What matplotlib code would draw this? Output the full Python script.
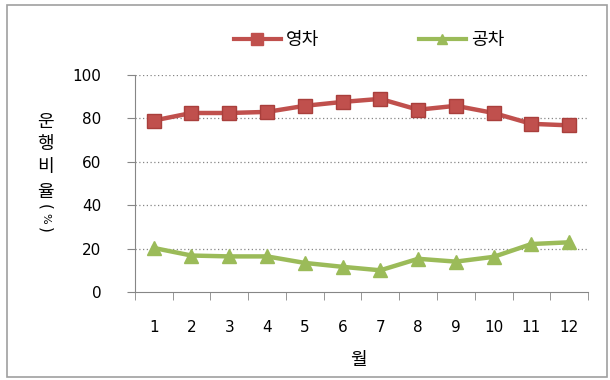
import matplotlib
matplotlib.use('Agg')
import matplotlib.pyplot as plt
from matplotlib.lines import Line2D
from matplotlib.patches import Rectangle

plt.rcParams['font.family'] = ['Noto Sans CJK KR', 'DejaVu Sans']

months = ['1', '2', '3', '4', '5', '6', '7', '8', '9', '10', '11', '12']
loaded = [79, 82.5, 82.5, 83, 85.8, 87.6, 89, 84, 85.8, 82.5, 77.5, 76.8]
empty = [20.3, 16.8, 16.4, 16.4, 13.4, 11.6, 10, 15.3, 14, 16.2, 22.1, 22.9]
yticks = [0, 20, 40, 60, 80, 100]
names = ['영차', '공차']
ylabel_chars = ['운', '행', '비', '율', '(', '%', ')']

red = '#C0504D'
green = '#9BBB59'

fig = plt.figure(figsize=(6.1, 3.8), dpi=100)
ax = fig.add_axes([0.221, 0.2316, 0.743, 0.571])

x = list(range(1, len(months) + 1))
ax.plot(x, loaded, color=red, lw=3.2, marker='s', ms=10, mfc=red, mec='#A93F3C', zorder=3)
ax.plot(x, empty, color=green, lw=3.2, marker='^', ms=10, mfc=green, mec=green, zorder=3)

ax.set_xlim(0.5, 12.5)
ax.set_ylim(0, 100)
ax.set_yticks(yticks)
ax.set_yticklabels([str(v) for v in yticks], family='DejaVu Sans', fontsize=11)
ax.set_xticks(x)
ax.set_xticklabels(months, family='DejaVu Sans', fontsize=11)
ax.set_xticks([i + 0.5 for i in range(0, 13)], minor=True)
ax.tick_params(axis='x', which='major', length=0, pad=20)
ax.tick_params(axis='x', which='minor', length=6, color='#868686', direction='out')
ax.tick_params(axis='y', length=6, color='#868686', direction='out', pad=18)

for y in yticks[1:]:
    ax.axhline(y, color='#868686', lw=0.9, ls=(0, (1, 2)), zorder=1)

for side in ['top', 'right']:
    ax.spines[side].set_visible(False)
for side in ['left', 'bottom']:
    ax.spines[side].set_color('#868686')

# legend
handles = [Line2D([], [], color=red, lw=3, marker='s', ms=8, mfc=red, mec=red),
           Line2D([], [], color=green, lw=3, marker='^', ms=7, mfc=green, mec=green)]
fig.legend(handles, names, loc='center', bbox_to_anchor=(0.605, 0.895), ncol=2,
           frameon=False, fontsize=13, handlelength=2.6, columnspacing=5.5, handletextpad=0.3)

# stacked y label, parentheses turned on their side
ys = [122, 144, 167, 192, 207, 218, 230]
for ch, yp in zip(ylabel_chars, ys):
    if ch in '()':
        fig.text(45 / 610, 1 - yp / 380, ch, ha='center', va='center', fontsize=11,
                 rotation=270, family='DejaVu Sans')
    elif ch == '%':
        fig.text(45 / 610, 1 - yp / 380, ch, ha='center', va='center', fontsize=8,
                 rotation=270, family='DejaVu Sans')
    else:
        fig.text(45 / 610, 1 - yp / 380, ch, ha='center', va='center', fontsize=13)

fig.text(358 / 610, 1 - 360 / 380, '월', ha='center', va='center', fontsize=13)

fig.patches.append(Rectangle((7 / 610, 3 / 380), 600 / 610, 372 / 380, transform=fig.transFigure,
                             fill=False, edgecolor='#A0A0A0', lw=1.2))

fig.savefig('out.png', dpi=100)
